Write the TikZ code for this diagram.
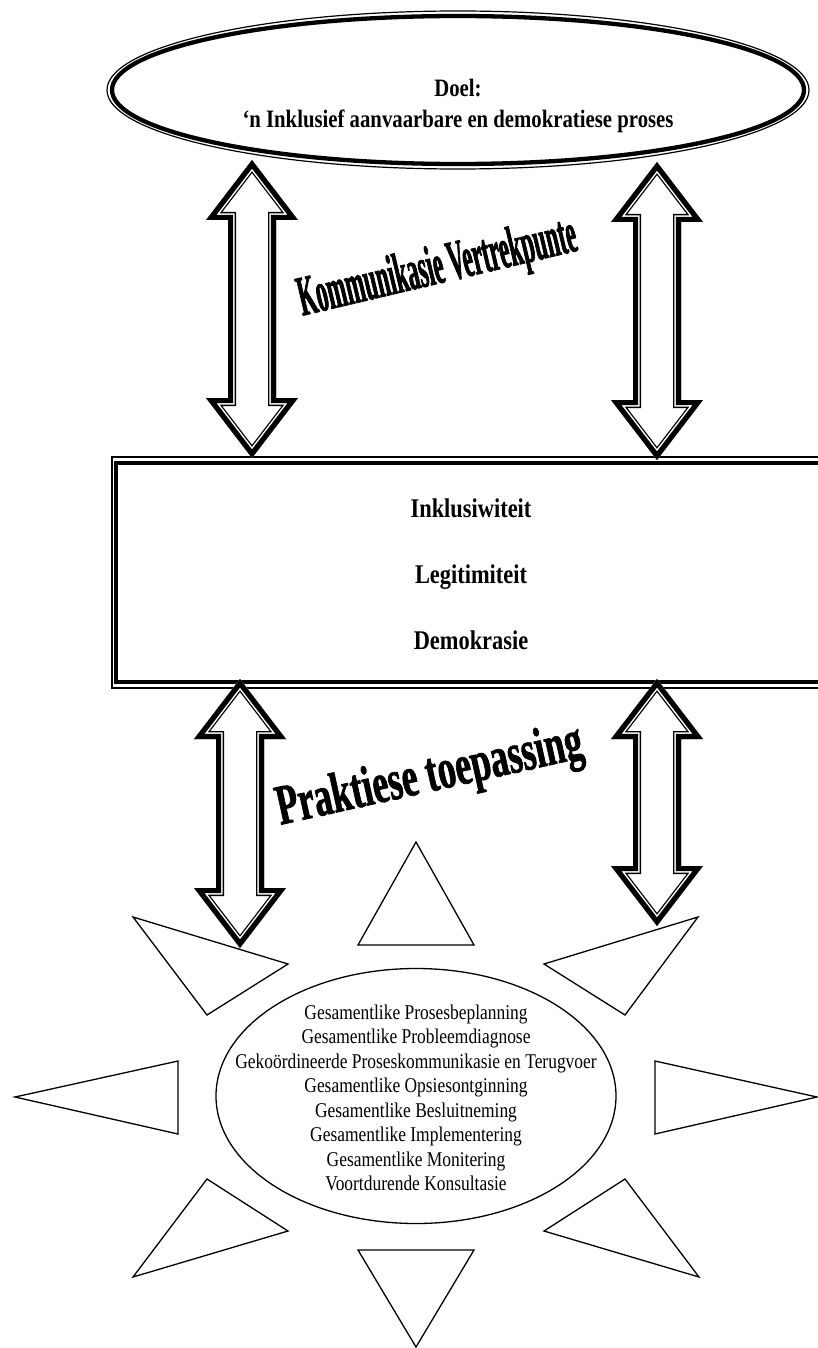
\documentclass[tikz,border=0pt]{standalone}
\usepackage{fontspec}
\setmainfont{Liberation Serif}[FakeStretch=0.83]
\newfontfamily\kommfont{Liberation Serif Bold}[FakeStretch=0.40, FakeBold=1.2]
\newfontfamily\prakfont{Liberation Serif Bold}[FakeStretch=0.63, FakeBold=1.2]
\usetikzlibrary{calc,shapes.geometric}

% outline of a two-headed block arrow between two named points
\newcommand\pylvorm[2]{(#1) -- ($(#1)+(46,60)$) -- ($(#1)+(24,60)$)
  -- ($(#2)+(24,-60)$) -- ($(#2)+(46,-60)$) -- (#2)
  -- ($(#2)+(-46,-60)$) -- ($(#2)+(-24,-60)$)
  -- ($(#1)+(-24,60)$) -- ($(#1)+(-46,60)$) -- cycle}
% thick outer line, thin inner line
\newcommand\pyl[2]{%
  \begin{scope}
    \clip \pylvorm{#1}{#2};
    \draw[line width=16pt] \pylvorm{#1}{#2};
    \draw[white, line width=13.4pt] \pylvorm{#1}{#2};
    \draw[line width=10.4pt] \pylvorm{#1}{#2};
  \end{scope}}

\begin{document}
\begin{tikzpicture}[x=1pt, y=-1pt,
    kop/.style={anchor=base, font=\fontsize{25}{31}\selectfont\bfseries},
    waarde/.style={anchor=base, font=\fontsize{27}{31}\selectfont\bfseries},
    lyn/.style={anchor=base, font=\fontsize{21}{24}\selectfont},
    straal/.style={draw, line width=1.3pt, line join=miter}]
    \useasboundingbox (0,0) rectangle (818,1348);
    \clip (0,0) rectangle (818,1348);

    % goal
    \node[ellipse, draw, line width=1.2pt, inner sep=0,
      minimum width=702pt, minimum height=158pt] (doel) at (458,90) {};
    \draw[line width=4.3pt] (doel.center) ellipse [x radius=346pt, y radius=74pt];
    \node[kop] (doel1) at (458,97) {Doel:};
    \node[kop] (doel2) at (458,128) {‘n Inklusief aanvaarbare en demokratiese proses};

    % values
    \node[draw, line width=1.2pt, inner sep=0,
      minimum width=718pt, minimum height=231pt] (kern) at (471,572.5) {};
    \draw[line width=4pt] ($(kern.north west)+(5,7)$) rectangle ($(kern.south east)+(-5,-7)$);
    \node[waarde] (inklusief) at (471,517) {Inklusiwiteit};
    \node[waarde] (legitiem) at (471,583) {Legitimiteit};
    \node[waarde] (demokrasie) at (471,649) {Demokrasie};

    % arrows
    \coordinate (lo1) at (252,160);
    \coordinate (lo2) at (252,458);
    \coordinate (ro1) at (657,162);
    \coordinate (ro2) at (657,460);
    \coordinate (lb1) at (240,679);
    \coordinate (lb2) at (240,948);
    \coordinate (rb1) at (657,679);
    \coordinate (rb2) at (657,926);
    \pyl{lo1}{lo2}
    \pyl{ro1}{ro2}
    \pyl{lb1}{lb2}
    \pyl{rb1}{rb2}

    \node[anchor=base, rotate=13.3, font=\fontsize{57}{60}\kommfont] (vertrek) at (441,283) {Kommunikasie Vertrekpunte};
    \node[anchor=base, rotate=12.5, font=\fontsize{57}{60}\prakfont] (praktyk) at (433,791) {Praktiese toepassing};

    % sun
    \node[ellipse, draw, line width=1.3pt, inner sep=0,
      minimum width=400pt, minimum height=255pt] (son) at (416,1096) {};
    \foreach \t [count=\i from 0] in {Gesamentlike Prosesbeplanning,
      Gesamentlike Probleemdiagnose,
      Gekoördineerde Proseskommunikasie en Terugvoer,
      Gesamentlike Opsiesontginning,
      Gesamentlike Besluitneming,
      Gesamentlike Implementering,
      Gesamentlike Monitering,
      Voortdurende Konsultasie}
      \node[lyn] (stap\i) at (416,{1019+24.5*\i}) {\t};

    \foreach \ax/\ay/\bx/\by/\cx/\cy in {416/842/474/945/358/945,
      133/917/288/964/207/1015, 698/917/544/964/625/1015,
      178/1061/15/1097/178/1134, 655/1061/817/1097/655/1134,
      207/1179/288/1231/133/1277, 625/1179/544/1231/699/1277,
      358/1250/474/1250/416/1347}
      \draw[straal] (\ax,\ay) -- (\bx,\by) -- (\cx,\cy) -- cycle;
\end{tikzpicture}
\end{document}
